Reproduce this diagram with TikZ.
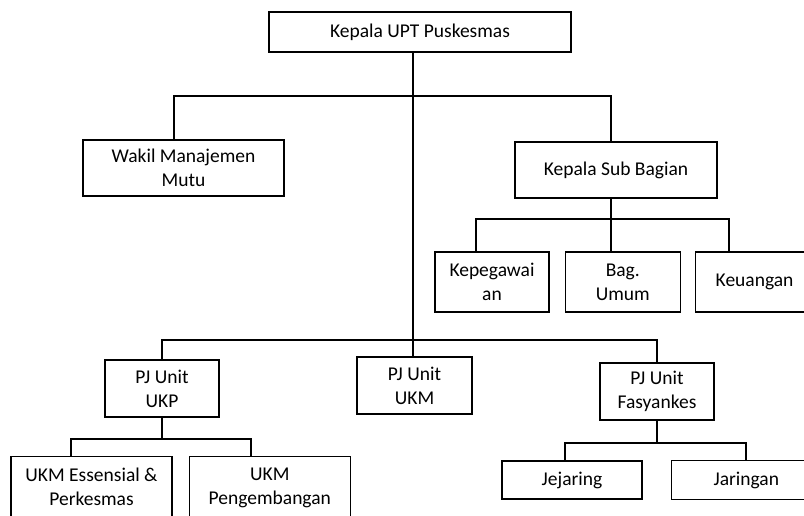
\documentclass[tikz,border=0pt]{standalone}
\usepackage{fontspec}
\setmainfont{Carlito}
\usepackage{tikz}
\usetikzlibrary{positioning}
\tikzset{
  unit/.style={draw, line width=1.3pt, align=center, inner sep=0pt, font=\fontsize{19.5}{24}\selectfont},
  wire/.style={line width=1.3pt}
}
\begin{document}
\begin{tikzpicture}[x=1pt,y=-1pt] %
		\useasboundingbox (0,0) rectangle (804,515);
		\clip (0,0) rectangle (804,515);
		% Head
		\node[unit, minimum width=302pt, minimum height=40pt] (Kepala) at (420,32) {Kepala UPT Puskesmas} ;
		\node[unit, minimum width=201pt, minimum height=56pt] (Wakil) at (183.5,168) {Wakil Manajemen\\Mutu} ;
		\node[unit, minimum width=202pt, minimum height=56pt] (SubBag) at (616,170) {Kepala Sub Bagian} ;
		% Sub bagian
		\node[unit, minimum width=114pt, minimum height=60pt] (Pegawai) at (492,282) {Kepegawai\\an} ;
		\node[unit, minimum width=115pt, minimum height=60pt, right=15pt of Pegawai] (Umum) {Bag.\\Umum} ;
		\node[unit, minimum width=118pt, minimum height=60pt, right=14pt of Umum] (Uang) {Keuangan} ;
		% PJ units
		\node[unit, minimum width=114pt, minimum height=57pt] (UKP) at (162,388.5) {PJ Unit\\UKP} ;
		\node[unit, minimum width=115pt, minimum height=57pt] (UKM) at (414.5,385.5) {PJ Unit\\UKM} ;
		\node[unit, minimum width=114pt, minimum height=57pt] (Fasyan) at (657,391.5) {PJ Unit\\Fasyankes} ;
		\node[unit, minimum width=161pt, minimum height=60pt, anchor=north] (Esensial) at (91.5,456) {UKM Essensial \&\\Perkesmas} ;
		\node[unit, minimum width=161pt, minimum height=62pt, right=16pt of Esensial.north east, anchor=north west] (Kembang) {UKM\\Pengembangan} ;
		\node[unit, minimum width=140pt, minimum height=38pt] (Jejaring) at (572,480) {Jejaring} ;
		\node[unit, minimum width=150pt, minimum height=39pt, right=28pt of Jejaring] (Jaringan) {Jaringan} ;
		% Buses
		\coordinate (busA) at (174,96) ;
		\coordinate (busB) at (611,96) ;
		\coordinate (busC) at (476,219) ;
		\coordinate (busD) at (729,219) ;
		\coordinate (busE) at (413,340) ;
		\coordinate (busF) at (71,439) ;
		\coordinate (busG) at (251,439) ;
		\coordinate (busH) at (565,443) ;
		\coordinate (busI) at (746,443) ;
		% Lines
		\draw[wire] (Kepala.south -| busE) -- (UKM.north -| busE) ;
		\draw[wire] (Wakil.north -| busA) -- (busA) -- (busB) -- (SubBag.north -| busB) ;
		\draw[wire] (SubBag.south -| busB) -- (Umum.north -| busB) ;
		\draw[wire] (Pegawai.north -| busC) -- (busC) -- (busD) -- (Uang.north -| busD) ;
		\draw[wire] (UKP.north) |- (busE) -| (Fasyan.north) ;
		\draw[wire] (UKP.south) -- (UKP.south |- busF) ;
		\draw[wire] (Esensial.north -| busF) -- (busF) -- (busG) -- (Kembang.north -| busG) ;
		\draw[wire] (Fasyan.south) -- (Fasyan.south |- busH) ;
		\draw[wire] (Jejaring.north -| busH) -- (busH) -- (busI) -- (Jaringan.north -| busI) ;
	\end{tikzpicture}
\end{document}
